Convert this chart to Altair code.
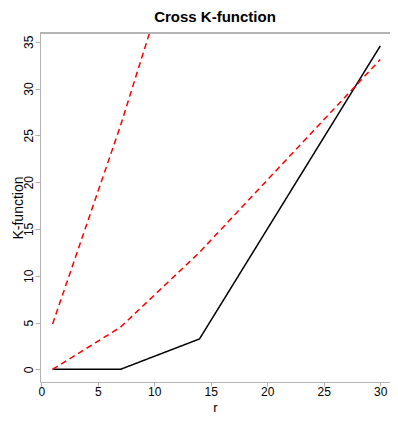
import altair as alt
import pandas as pd

# ---- data ----
r_values = [1, 7, 14, 30]
k_observed = [0.0, 0.0, 3.25, 34.55]
k_lower = [0.0, 4.5, 12.5, 33.1]
k_upper = [4.85, 26.0, 53.0, 117.0]
series_names = ["observed", "lower", "upper"]
x_ticks = [0, 5, 10, 15, 20, 25, 30]
y_ticks = [0, 5, 10, 15, 20, 25, 30, 35]

rows = []
for name, vals in zip(series_names, [k_observed, k_lower, k_upper]):
    for rv, kv in zip(r_values, vals):
        rows.append({"r": rv, "K": kv, "series": name})
df = pd.DataFrame(rows)

W, H = 350, 349
GRAY = "#b3b3b3"
FONT = "Liberation Sans"

lines = alt.Chart(df).mark_line(clip=True, strokeWidth=1.5).encode(
    x=alt.X(
        "r:Q",
        scale=alt.Scale(domain=[-0.115, 30.86], nice=False, zero=False),
        axis=alt.Axis(
            values=x_ticks, title="r", grid=False,
            domainColor=GRAY, tickColor=GRAY, tickSize=4,
            labelColor="black", labelFontSize=12, labelFont=FONT, labelPadding=0,
            titleFontSize=13, titleFont=FONT, titleFontWeight="normal",
            titleColor="black", titleX=W / 2, titleY=29.5, titleBaseline="alphabetic",
            titleAlign="center",
        ),
    ),
    y=alt.Y(
        "K:Q",
        scale=alt.Scale(domain=[-1.35, 35.93], nice=False, zero=False),
        axis=alt.Axis(
            values=y_ticks, title="K-function", grid=False,
            domainColor=GRAY, tickColor=GRAY, tickSize=5,
            labelColor="black", labelFontSize=12, labelFont=FONT,
            labelAngle=270, labelAlign="center", labelBaseline="bottom", labelPadding=0,
            titleFontSize=14, titleFont=FONT, titleFontWeight="normal",
            titleColor="black", titleAngle=270, titleX=-18, titleY=H / 2,
            titleBaseline="alphabetic", titleAlign="center",
        ),
    ),
    color=alt.Color(
        "series:N",
        scale=alt.Scale(domain=series_names, range=["black", "red", "red"]),
        legend=None,
    ),
    strokeDash=alt.StrokeDash(
        "series:N",
        scale=alt.Scale(domain=series_names, range=[[1, 0], [6, 4], [6, 4]]),
        legend=None,
    ),
    detail="series:N",
)

top_border = alt.Chart(df).mark_rule(color=GRAY, strokeWidth=1).encode(
    x=alt.value(0), x2=alt.value(W), y=alt.value(0)
)

chart = alt.layer(lines, top_border).properties(
    width=W,
    height=H,
    title=alt.TitleParams(
        "Cross K-function", fontSize=15, fontWeight="bold", font=FONT,
        anchor="middle", offset=8, color="black",
    ),
    autosize=alt.AutoSizeParams(type="none"),
    padding={"left": 32, "top": 25, "right": 0, "bottom": 32},
).configure_view(stroke=None)

chart.save("out.html", embed_options={"renderer": "svg", "actions": False})
